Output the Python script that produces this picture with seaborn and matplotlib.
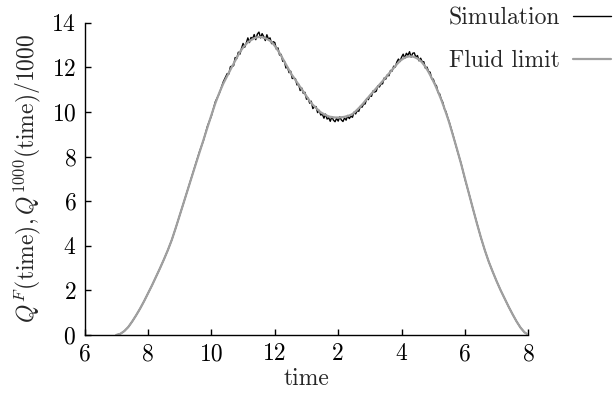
import numpy as np
import pandas as pd
import matplotlib
matplotlib.use("Agg")
import matplotlib.pyplot as plt
import seaborn as sns

# ---- data (hours of day; 14 = 2 pm, 20 = 8 pm) ----
time = [7.0, 7.125, 7.25, 7.375, 7.5, 7.625, 7.75, 7.875, 8.0, 8.125, 8.25, 8.375,
        8.5, 8.625, 8.75, 8.875, 9.0, 9.125, 9.25, 9.375, 9.5, 9.625, 9.75, 9.875,
        10.0, 10.125, 10.25, 10.375,
        10.50, 10.55, 10.60, 10.65, 10.70, 10.75, 10.80, 10.85, 10.90, 10.95,
        11.00, 11.05, 11.10, 11.15, 11.20, 11.25, 11.30, 11.35, 11.40, 11.45,
        11.50, 11.55, 11.60, 11.65, 11.70, 11.75, 11.80, 11.85, 11.90, 11.95,
        12.00, 12.05, 12.10, 12.15, 12.20, 12.25, 12.30, 12.35, 12.40, 12.45,
        12.50, 12.55, 12.60, 12.65, 12.70, 12.75, 12.80, 12.85, 12.90, 12.95,
        13.00, 13.05, 13.10, 13.15, 13.20, 13.25, 13.30, 13.35, 13.40, 13.45,
        13.50, 13.55, 13.60, 13.65, 13.70, 13.75, 13.80, 13.85, 13.90, 13.95,
        14.00, 14.05, 14.10, 14.15, 14.20, 14.25, 14.30, 14.35, 14.40, 14.45,
        14.50, 14.55, 14.60, 14.65, 14.70, 14.75, 14.80, 14.85, 14.90, 14.95,
        15.00, 15.05, 15.10, 15.15, 15.20, 15.25, 15.30, 15.35, 15.40, 15.45,
        15.50, 15.55, 15.60, 15.65, 15.70, 15.75, 15.80, 15.85, 15.90, 15.95,
        16.00, 16.05, 16.10, 16.15, 16.20, 16.25, 16.30, 16.35, 16.40, 16.45,
        16.50, 16.55, 16.60, 16.65, 16.70, 16.75, 16.80, 16.85, 16.90, 16.95,
        17.00, 17.05, 17.10, 17.15, 17.20, 17.25, 17.30, 17.35, 17.40, 17.45,
        17.50, 17.625, 17.75, 17.875, 18.0, 18.125, 18.25, 18.375, 18.5, 18.625,
        18.75, 18.875, 19.0, 19.125, 19.25, 19.375, 19.5, 19.625, 19.75, 19.875, 20.0]

fluid_limit = [0.0, 0.05, 0.17, 0.35, 0.6, 0.88, 1.18, 1.51, 1.86, 2.22, 2.6, 2.98,
               3.38, 3.8, 4.26, 4.8, 5.36, 5.93, 6.5, 7.07, 7.63, 8.19, 8.75, 9.31,
               9.86, 10.39, 10.86, 11.27,
               11.62, 11.76, 11.89, 12.03, 12.16, 12.29, 12.42, 12.56, 12.69, 12.79,
               12.89, 12.98, 13.05, 13.12, 13.17, 13.22, 13.26, 13.30, 13.33, 13.35,
               13.36, 13.36, 13.35, 13.33, 13.30, 13.27, 13.23, 13.19, 13.13, 13.05,
               12.96, 12.86, 12.75, 12.64, 12.52, 12.39, 12.26, 12.12, 11.99, 11.86,
               11.75, 11.64, 11.54, 11.43, 11.33, 11.22, 11.12, 11.02, 10.91, 10.81,
               10.70, 10.60, 10.49, 10.40, 10.32, 10.25, 10.18, 10.11, 10.04, 9.98,
               9.94, 9.90, 9.86, 9.83, 9.80, 9.78, 9.77, 9.76, 9.75, 9.75,
               9.75, 9.75, 9.76, 9.77, 9.78, 9.80, 9.82, 9.84, 9.87, 9.91,
               9.96, 10.03, 10.10, 10.17, 10.24, 10.32, 10.40, 10.49, 10.57, 10.65,
               10.74, 10.82, 10.90, 10.98, 11.06, 11.14, 11.22, 11.30, 11.38, 11.47,
               11.55, 11.64, 11.72, 11.80, 11.89, 11.97, 12.05, 12.14, 12.21, 12.29,
               12.34, 12.39, 12.43, 12.46, 12.48, 12.49, 12.49, 12.48, 12.46, 12.43,
               12.39, 12.34, 12.29, 12.21, 12.12, 12.02, 11.91, 11.79, 11.66, 11.52,
               11.38, 11.23, 11.07, 10.90, 10.73, 10.55, 10.36, 10.16, 9.96, 9.75,
               9.53, 8.92, 8.32, 7.68, 7.0, 6.33, 5.66, 5.0, 4.38, 3.8,
               3.28, 2.83, 2.4, 2.0, 1.63, 1.27, 0.93, 0.61, 0.33, 0.12, 0.0]

simulation = [0.0, 0.05, 0.17, 0.35, 0.6, 0.88, 1.18, 1.51, 1.86, 2.22, 2.6, 2.98,
              3.38, 3.8, 4.26, 4.8, 5.36, 5.93, 6.5, 7.07, 7.63, 8.22, 8.72, 9.36,
              9.82, 10.46, 10.83, 11.35,
              11.72, 11.70, 12.03, 12.05, 12.07, 12.44, 12.39, 12.68, 12.59, 12.85,
              13.07, 12.90, 13.09, 13.32, 13.11, 13.34, 13.28, 13.47, 13.24, 13.49,
              13.58, 13.32, 13.51, 13.38, 13.20, 13.46, 13.26, 13.32, 13.06, 13.15,
              13.11, 12.81, 12.87, 12.55, 12.58, 12.27, 12.30, 11.97, 12.01, 11.76,
              11.83, 11.50, 11.51, 11.49, 11.21, 11.25, 10.96, 11.07, 10.83, 10.88,
              10.57, 10.62, 10.39, 10.48, 10.15, 10.23, 10.24, 9.97, 10.07, 9.86,
              9.90, 9.72, 9.90, 9.68, 9.74, 9.58, 9.79, 9.63, 9.56, 9.71,
              9.59, 9.78, 9.64, 9.57, 9.73, 9.63, 9.84, 9.70, 9.81, 9.76,
              9.99, 9.91, 10.06, 10.03, 10.26, 10.21, 10.35, 10.36, 10.60, 10.55,
              10.72, 10.70, 10.94, 10.89, 10.93, 11.17, 11.12, 11.26, 11.26, 11.52,
              11.47, 11.66, 11.62, 11.86, 11.83, 12.05, 12.01, 12.24, 12.37, 12.26,
              12.46, 12.59, 12.41, 12.63, 12.54, 12.70, 12.46, 12.63, 12.65, 12.45,
              12.53, 12.29, 12.41, 12.25, 12.25, 11.96, 12.01, 11.82, 11.78, 11.48,
              11.47, 11.25, 11.17, 10.87, 10.81, 10.57, 10.43, 10.14, 10.01, 9.76,
              9.56, 8.95, 8.30, 7.70, 6.98, 6.34, 5.66, 5.01, 4.37, 3.80,
              3.28, 2.83, 2.40, 2.0, 1.63, 1.27, 0.93, 0.61, 0.33, 0.12, 0.0]

x_ticks = [6, 8, 10, 12, 14, 16, 18, 20]
x_tick_labels = ["6", "8", "10", "12", "2", "4", "6", "8"]
y_ticks = [0, 2, 4, 6, 8, 10, 12, 14]

df = pd.DataFrame({"time": time, "Simulation": simulation, "Fluid limit": fluid_limit})

sns.set_style("ticks")
plt.rcParams["font.family"] = ["cmr10", "DejaVu Serif"]
plt.rcParams["mathtext.fontset"] = "cm"
plt.rcParams["axes.unicode_minus"] = False
plt.rcParams["axes.formatter.use_mathtext"] = True

FS = 17
fig = plt.figure(figsize=(6.13, 3.95), dpi=100)
ax = fig.add_axes([0.138, 0.152, 0.724, 0.7905])

sns.lineplot(data=df, x="time", y="Simulation", ax=ax, color="black", lw=1.0,
             label="Simulation", estimator=None, sort=False)
sns.lineplot(data=df, x="time", y="Fluid limit", ax=ax, color="#a0a0a0", lw=1.6,
             label="Fluid limit", estimator=None, sort=False)

ax.set_xlim(6, 20)
ax.set_ylim(0, 14)
ax.set_xticks(x_ticks)
ax.set_xticklabels(x_tick_labels)
ax.set_yticks(y_ticks)
ax.tick_params(direction="in", length=4, width=1, labelsize=FS, pad=6, colors="black")
for s in ["top", "right"]:
    ax.spines[s].set_visible(False)
for s in ["left", "bottom"]:
    ax.spines[s].set_linewidth(1.0)
    ax.spines[s].set_color("black")

ax.set_xlabel("time", fontsize=FS, labelpad=2)
ax.set_ylabel(r"$Q^F(\mathrm{time}), Q^{1000}(\mathrm{time})/1000$", fontsize=FS, labelpad=6)

ax.get_legend().remove()
handles, labels = ax.get_legend_handles_labels()
fig.legend(handles, labels, loc="upper right", bbox_to_anchor=(1.0, 0.987),
           frameon=False, markerfirst=False, fontsize=FS, handlelength=1.6,
           handletextpad=0.55, labelspacing=0.85, borderpad=0.0, borderaxespad=0.1)

fig.savefig("out.png", dpi=100)
